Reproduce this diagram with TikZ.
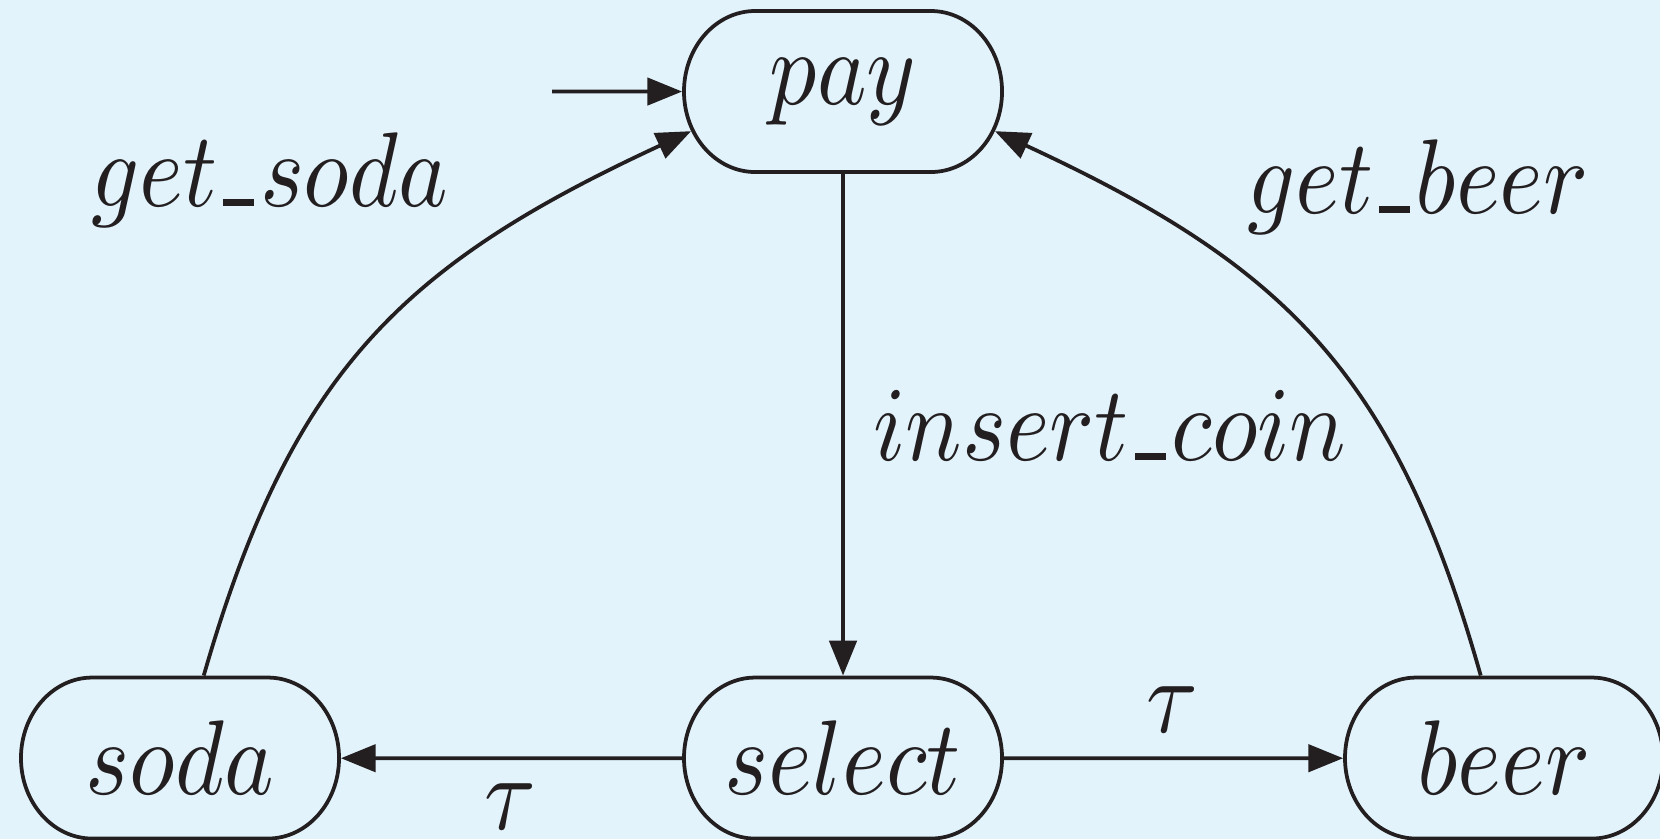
\documentclass[tikz,border=0pt]{standalone}
\usetikzlibrary{arrows.meta,shapes.misc}
\definecolor{bg}{RGB}{227,243,252}
\definecolor{ink}{RGB}{35,31,32}
\newcommand\us{\mbox{\kern0.06em\rule{0.33em}{0.065em}\kern0.06em}}
\begin{document}
\begin{tikzpicture}[x=0.1064pt, y=-0.094159pt, yscale=1.13, transform shape,
  state/.style={draw=ink, line width=0.4pt, rounded rectangle, minimum width=33.84pt,
    minimum height=15.16pt, inner sep=0pt, text=ink},
  lbl/.style={inner sep=0pt, anchor=base, text=ink},
  arr/.style={draw=ink, line width=0.4pt, -{Triangle[length=3.7pt,width=2.9pt]}}]
\fill[bg] (0,0) rectangle (1660,839);
\useasboundingbox (0,0) rectangle (1660,839);

\node[state] (pay) at (843,91.5) {\makebox[0pt]{$pay$}};
\node[state] (select) at (843,758) {\makebox[0pt]{$select$}};
\node[state] (soda) at (180,758) {\makebox[0pt]{$soda$}};
\node[state] (beer) at (1504,758) {\makebox[0pt]{$beer$}};
\coordinate (init) at (552,91.5);

\draw[arr] (init) -- (pay);
\draw[arr] (pay) -- (select);
\draw[arr] (select) -- (soda);
\draw[arr] (select) -- (beer);
\draw[arr] (soda) .. controls (291,372) and (402,265) .. (pay.193);
\draw[arr] (beer) .. controls (1395,372) and (1284,265) .. (pay.-13);

\node[lbl] (lsoda) at (270,206) {$get\us soda$};
\node[lbl] (lbeer) at (1418,213) {$get\us beer$};
\node[lbl] (lcoin) at (1110,460) {$insert\us coin$};
\node[lbl] (ltau1) at (1172,732) {$\tau$};
\node[lbl] (ltau2) at (510,829) {$\tau$};
\end{tikzpicture}
\end{document}
